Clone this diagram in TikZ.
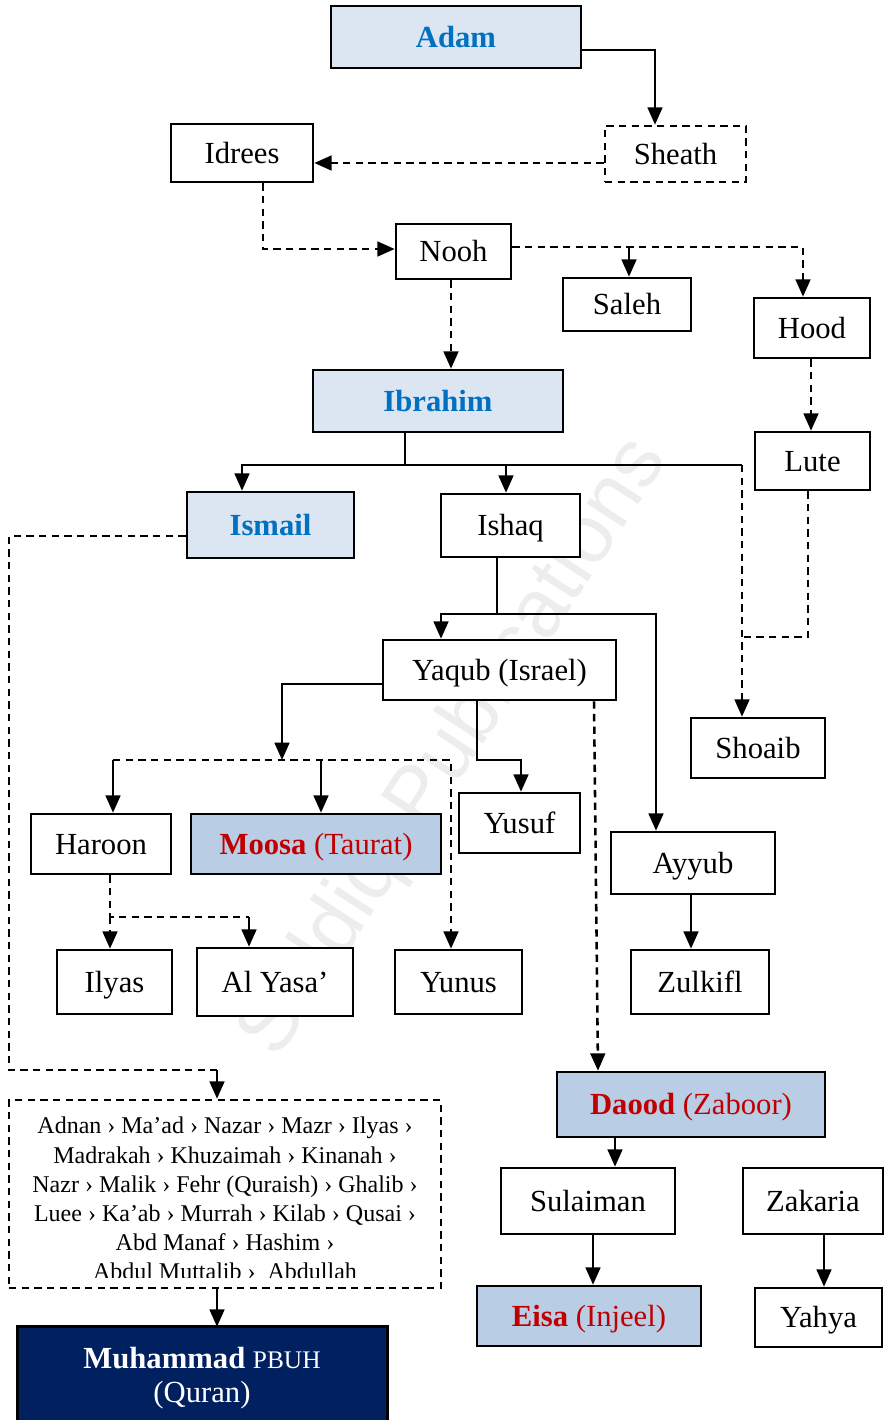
\documentclass[tikz,border=0pt]{standalone}
\usepackage{fontspec}
\setmainfont{Liberation Serif}
\newfontfamily\wmfont{Liberation Sans}
\usetikzlibrary{arrows.meta}
\definecolor{lblue}{HTML}{DCE6F2}
\definecolor{mblue}{HTML}{B9CDE5}
\definecolor{navy}{HTML}{002060}
\definecolor{tblue}{HTML}{0070C0}
\definecolor{tred}{HTML}{C00000}
\newcommand\bx[7]{%
 \pgfmathsetmacro\bxw{(#4-#2)*0.75}%
 \pgfmathsetmacro\bxh{(#5-#3)*0.75}%
 \node[#6, minimum width=\bxw pt, minimum height=\bxh pt] (#1) at ({(#2+#4)/2},{(#3+#5)/2}) {#7};}
\tikzset{
 box/.style={draw, line width=1.9pt, fill=white, inner sep=0pt, text height=15.2pt, text depth=0pt,
   font=\fontsize{23}{27}\selectfont, text=black},
 lbox/.style={box, fill=lblue, text=tblue, font=\fontsize{23}{27}\selectfont\bfseries},
 mbox/.style={box, fill=mblue, text=tred},
 dsh/.style={dash pattern=on 5.5pt off 4pt},
 dbox/.style={box, dsh},
 ln/.style={line width=1.9pt},
 conn/.style={line width=1.9pt, -{Triangle[length=13pt,width=11pt]}},
}
\begin{document}
\begin{tikzpicture}[x=0.75pt,y=-0.75pt]
\useasboundingbox (0,0) rectangle (884,1420);
% watermark
\node[rotate=57, text=black!7, font=\wmfont\fontsize{62}{62}\selectfont] (wm) at (455,748) {Siddiqi Publications};
% boxes
\bx{adam}{331}{6}{581}{68}{lbox}{Adam}
\bx{sheath}{605}{126}{746}{182}{dbox}{Sheath}
\bx{idrees}{171}{124}{313}{182}{box}{Idrees}
\bx{nooh}{396}{224}{511}{279}{box}{Nooh}
\bx{saleh}{563}{278}{691}{331}{box}{Saleh}
\bx{hood}{754}{298}{870}{358}{box}{Hood}
\bx{ibrahim}{313}{370}{563}{432}{lbox}{Ibrahim}
\bx{lute}{755}{432}{870}{490}{box}{Lute}
\bx{ismail}{187}{492}{354}{558}{lbox}{Ismail}
\bx{ishaq}{441}{494}{580}{557}{box}{Ishaq}
\bx{yaqub}{383}{640}{616}{700}{box}{Yaqub (Israel)}
\bx{shoaib}{691}{718}{825}{778}{box}{Shoaib}
\bx{haroon}{31}{814}{171}{874}{box}{Haroon}
\bx{moosa}{191}{814}{441}{874}{mbox}{{\bfseries Moosa} (Taurat)}
\bx{yusuf}{459}{793}{580}{853}{box}{Yusuf}
\bx{ayyub}{611}{832}{775}{894}{box}{Ayyub}
\bx{ilyas}{57}{950}{172}{1014}{box}{Ilyas}
\bx{alyasa}{197}{948}{353}{1016}{box}{Al Yasa’}
\bx{yunus}{395}{950}{522}{1014}{box}{Yunus}
\bx{zulkifl}{631}{950}{769}{1014}{box}{Zulkifl}
\bx{daood}{557}{1072}{825}{1137}{mbox}{{\bfseries Daood} (Zaboor)}
\bx{chain}{9}{1100}{441}{1288}{dbox}{}
\bx{sulaiman}{501}{1168}{675}{1234}{box}{Sulaiman}
\bx{zakaria}{743}{1168}{883}{1234}{box}{Zakaria}
\bx{eisa}{477}{1286}{701}{1346}{mbox}{{\bfseries Eisa} (Injeel)}
\bx{yahya}{755}{1288}{882}{1347}{box}{Yahya}
\bx{muhammad}{19}{1328}{386}{1440}{box}{}
\fill[navy] (muhammad.south west) rectangle (muhammad.north east);
\draw[line width=1.9pt] (muhammad.south west) rectangle (muhammad.north east);
\node[text=white, align=center, anchor=north, inner sep=0pt, font=\fontsize{23}{25.5}\selectfont] (mtext) at (202,1347)
 {{\bfseries Muhammad} {\fontsize{19}{20}\selectfont PBUH}\\(Quran)};
\begin{scope}
\clip (9,1100) rectangle (441,1277);
\node[align=center, anchor=north, inner sep=0pt, font=\fontsize{18}{21.9}\selectfont] (chaintext) at (225,1117)
 {Adnan › Ma’ad › Nazar › Mazr › Ilyas ›\\
  Madrakah › Khuzaimah › Kinanah ›\\
  Nazr › Malik › Fehr (Quraish) › Ghalib ›\\
  Luee › Ka’ab › Murrah › Kilab › Qusai ›\\
  Abd Manaf › Hashim ›\\
  Abdul Muttalib ›\ \ Abdullah};
\end{scope}
% junction coordinates
\coordinate (j1) at (629,247);
\coordinate (j2) at (405,465);
\coordinate (j2r) at (742,465);
\coordinate (j3) at (497,614);
\coordinate (j4) at (113,760);
\coordinate (j4m) at (321,760);
\coordinate (j4r) at (451,760);
\coordinate (j5) at (477,760);
\coordinate (j6) at (110,917);
\coordinate (j6r) at (249,917);
\coordinate (j7) at (9,1070);
\coordinate (j7r) at (217,1070);
% connectors
\draw[conn] (adam.east |- 0,50) -| (sheath.north -| 655,0);
\draw[conn,dsh] (sheath.west |- 0,163) -- (idrees.east |- 0,163);
\draw[conn,dsh] (idrees.south -| 263,0) |- (nooh.west |- 0,249);
\draw[conn,dsh] (nooh.east |- 0,247) -| (hood.north -| 803,0);
\draw[conn] (j1) -- (saleh.north -| 629,0);
\draw[conn,dsh] (nooh.south -| 451,0) -- (ibrahim.north -| 451,0);
\draw[conn,dsh] (hood.south -| 811,0) -- (lute.north -| 811,0);
\draw[ln] (ibrahim.south -| 405,0) -- (j2);
\draw[conn] (j2) -| (ismail.north -| 242,0);
\draw[conn] (j2) -| (ishaq.north -| 506,0);
\draw[ln] (j2) -- (j2r);
\draw[conn,dsh] (j2r) -- (shoaib.north -| 742,0);
\draw[ln,dsh] (lute.south -| 808,0) |- (742,637);
\draw[ln] (ishaq.south -| 497,0) -- (j3);
\draw[conn] (j3) -| (yaqub.north -| 441,0);
\draw[conn] (j3) -| (ayyub.north -| 656,0);
\draw[conn] (ayyub.south -| 691,0) -- (zulkifl.north -| 691,0);
\draw[conn] (yaqub.west |- 0,684) -| (282,760);
\draw[conn,dsh] (j4) -- (j4r) -- (yunus.north -| 451,0);
\draw[conn] (j4) -- (haroon.north -| 113,0);
\draw[conn] (j4m) -- (moosa.north -| 321,0);
\draw[conn] (yaqub.south -| 477,0) -- (j5) -| (yusuf.north -| 521,0);
\draw[conn,dsh] (yaqub.south -| 594,0) -- (daood.north -| 598,0);
\draw[ln,dsh] (haroon.south -| 110,0) -- (j6) -- (j6r);
\draw[conn,dsh] (j6) -- (ilyas.north -| 110,0);
\draw[conn] (j6r) -- (alyasa.north -| 249,0);
\draw[ln,dsh] (ismail.west |- 0,536) -| (j7) -- (j7r);
\draw[conn] (j7r) -- (chain.north -| 217,0);
\draw[conn] (chain.south -| 217,0) -- (muhammad.north -| 217,0);
\draw[conn] (daood.south -| 615,0) -- (sulaiman.north -| 615,0);
\draw[conn] (sulaiman.south -| 593,0) -- (eisa.north -| 593,0);
\draw[conn] (zakaria.south -| 824,0) -- (yahya.north -| 824,0);
\end{tikzpicture}
\end{document}
